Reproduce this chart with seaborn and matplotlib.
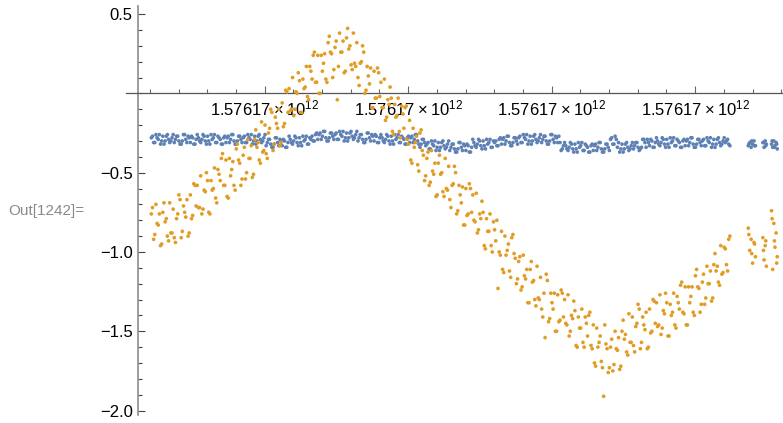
import numpy as np
import pandas as pd
import matplotlib
matplotlib.use("Agg")
import matplotlib.pyplot as plt
import matplotlib.ticker as mticker
import seaborn as sns

# sample times (axis units, one minor tick per unit), first batch of readings
t_a = [
    1.05, 1.13, 1.21, 1.29, 1.37, 1.45, 1.53, 1.61, 1.69, 1.77,
    1.85, 1.93, 2.01, 2.09, 2.17, 2.25, 2.33, 2.41, 2.49, 2.57,
    2.65, 2.73, 2.81, 2.89, 2.97, 3.05, 3.13, 3.21, 3.29, 3.37,
    3.45, 3.53, 3.61, 3.69, 3.77, 3.85, 3.93, 4.01, 4.09, 4.17,
    4.25, 4.33, 4.41, 4.49, 4.57, 4.65, 4.73, 4.81, 4.89, 4.97,
    5.05, 5.13, 5.21, 5.29, 5.37, 5.45, 5.53, 5.61, 5.69, 5.77,
    5.85, 5.93, 6.01, 6.09, 6.17, 6.25, 6.33, 6.41, 6.49, 6.57,
    6.65, 6.73, 6.81, 6.89, 6.97, 7.05, 7.13, 7.21, 7.29, 7.37,
    7.45, 7.53, 7.61, 7.69, 7.77, 7.85, 7.93, 8.01, 8.09, 8.17,
    8.25, 8.33, 8.41, 8.49, 8.57, 8.65, 8.73, 8.81, 8.89, 8.97,
    9.05, 9.13, 9.21, 9.29, 9.37, 9.45, 9.53, 9.61, 9.69, 9.77,
    9.85, 9.93, 10.01, 10.09, 10.17, 10.25, 10.33, 10.41, 10.49, 10.57,
    10.65, 10.73, 10.81, 10.89, 10.97, 11.05, 11.13, 11.21, 11.29, 11.37,
    11.45, 11.53, 11.61, 11.69, 11.77, 11.85, 11.93, 12.01, 12.09, 12.17,
    12.25, 12.33, 12.41, 12.49, 12.57, 12.65, 12.73, 12.81, 12.89, 12.97,
    13.05, 13.13, 13.21, 13.29, 13.37, 13.45, 13.53, 13.61, 13.69, 13.77,
    13.85, 13.93, 14.01, 14.09, 14.17, 14.25, 14.33, 14.41, 14.49, 14.57,
    14.65, 14.73, 14.81, 14.89, 14.97, 15.05, 15.13, 15.21, 15.29, 15.37,
    15.45, 15.53, 15.61, 15.69, 15.77, 15.85, 15.93, 16.01, 16.09, 16.17,
    16.25, 16.33, 16.41, 16.49, 16.57, 16.65, 16.73, 16.81, 16.89, 16.97,
    17.05, 17.13, 17.21, 17.29, 17.37, 17.45, 17.53, 17.61, 17.69, 17.77,
    17.85, 17.93, 18.01, 18.09, 18.17, 18.25, 18.33, 18.41, 18.49, 18.57,
    18.65, 18.73, 18.81, 18.89, 18.97, 19.05, 19.13, 19.21, 19.29, 19.37,
    19.45, 19.53, 19.61, 19.69, 19.77, 19.85, 19.93, 20.01, 20.09, 20.17,
    20.25, 20.33, 20.41, 20.49, 20.57, 20.65, 20.73, 20.81, 20.89, 20.97,
    21.05, 21.13, 21.21,
    21.85, 21.90, 21.95, 22.00, 22.05, 22.10,
    22.36, 22.40, 22.44, 22.48,
    22.66, 22.70, 22.74, 22.78, 22.82, 22.86,
]

orange_a = [
    -0.76, -0.92, -0.70, -0.83, -0.96, -0.75, -0.81, -0.90, -0.69, -0.88,
    -0.91, -0.79, -0.64, -0.91, -0.71, -0.78, -0.90, -0.64, -0.77, -0.58,
    -0.58, -0.72, -0.76, -0.61, -0.50, -0.75, -0.55, -0.60, -0.66, -0.48,
    -0.55, -0.38, -0.58, -0.65, -0.41, -0.48, -0.58, -0.35, -0.42, -0.58,
    -0.39, -0.54, -0.29, -0.41, -0.53, -0.29, -0.34, -0.42, -0.18, -0.36,
    -0.38, -0.25, -0.10, -0.36, -0.15, -0.22, -0.33, -0.06, -0.19, 0.01,
    0.03, -0.10, -0.14, 0.01, 0.13, -0.12, 0.09, 0.04, -0.02, 0.17,
    0.09, 0.26, 0.07, 0.00, 0.24, 0.19, 0.09, 0.32, 0.26, 0.10,
    0.29, -0.04, 0.38, 0.26, 0.13, 0.35, 0.28, 0.18, 0.38, 0.17,
    0.10, 0.19, 0.30, 0.00, 0.17, 0.06, -0.09, 0.14, -0.03, 0.13,
    0.07, -0.09, -0.17, -0.04, 0.04, -0.24, -0.07, -0.14, -0.24, -0.08,
    -0.22, -0.08, -0.32, -0.42, -0.22, -0.31, -0.45, -0.25, -0.36, -0.55,
    -0.41, -0.58, -0.36, -0.51, -0.65, -0.44, -0.51, -0.62, -0.41, -0.61,
    -0.67, -0.58, -0.46, -0.76, -0.58, -0.69, -0.83, -0.60, -0.76, -0.60,
    -0.64, -0.81, -0.88, -0.76, -0.68, -0.96, -0.79, -0.87, -0.96, -0.81,
    -0.93, -1.23, -1.02, -1.11, -0.90, -0.99, -1.12, -0.91, -1.01, -1.20,
    -1.06, -1.24, -1.02, -1.17, -1.32, -1.11, -1.19, -1.30, -1.09, -1.30,
    -1.36, -1.26, -1.14, -1.44, -1.26, -1.36, -1.50, -1.27, -1.43, -1.26,
    -1.30, -1.46, -1.53, -1.40, -1.31, -1.59, -1.41, -1.48, -1.57, -1.41,
    -1.53, -1.38, -1.61, -1.70, -1.48, -1.57, -1.69, -1.91, -1.58, -1.76,
    -1.60, -1.75, -1.50, -1.62, -1.74, -1.50, -1.55, -1.63, -1.39, -1.57,
    -1.59, -1.47, -1.33, -1.61, -1.41, -1.49, -1.61, -1.36, -1.50, -1.31,
    -1.32, -1.46, -1.52, -1.37, -1.26, -1.53, -1.33, -1.38, -1.46, -1.28,
    -1.36, -1.19, -1.39, -1.46, -1.22, -1.28, -1.38, -1.15, -1.22, -1.38,
    -1.19, -1.33, -1.09, -1.20, -1.31, -1.08, -1.12, -1.19, -0.96, -1.13,
    -0.98, -1.12, -0.90,
    -0.85, -0.99, -0.92, -1.07, -0.94, -1.03,
    -0.91, -1.05, -0.96, -1.09,
    -0.74, -1.11, -0.82, -0.97, -0.88, -1.03,
]

blue_a = [
    -0.28, -0.31, -0.26, -0.29, -0.32, -0.27, -0.30, -0.26, -0.31, -0.28,
    -0.31, -0.27, -0.30, -0.32, -0.26, -0.29, -0.27, -0.31, -0.28, -0.32,
    -0.26, -0.30, -0.29, -0.27, -0.32, -0.30, -0.26, -0.28, -0.31, -0.27,
    -0.29, -0.32, -0.27, -0.28, -0.31, -0.26, -0.30, -0.32, -0.27, -0.29,
    -0.28, -0.31, -0.26, -0.29, -0.32, -0.27, -0.30, -0.26, -0.31, -0.28,
    -0.33, -0.29, -0.32, -0.34, -0.28, -0.31, -0.29, -0.33, -0.30, -0.34,
    -0.27, -0.31, -0.30, -0.28, -0.33, -0.31, -0.27, -0.29, -0.32, -0.28,
    -0.27, -0.30, -0.25, -0.26, -0.29, -0.24, -0.28, -0.30, -0.25, -0.27,
    -0.26, -0.29, -0.24, -0.27, -0.30, -0.25, -0.28, -0.24, -0.29, -0.26,
    -0.30, -0.26, -0.29, -0.31, -0.25, -0.28, -0.26, -0.30, -0.27, -0.31,
    -0.26, -0.30, -0.29, -0.27, -0.32, -0.30, -0.26, -0.28, -0.31, -0.27,
    -0.29, -0.32, -0.27, -0.28, -0.31, -0.26, -0.30, -0.34, -0.29, -0.31,
    -0.32, -0.35, -0.30, -0.33, -0.36, -0.31, -0.34, -0.30, -0.35, -0.32,
    -0.36, -0.32, -0.35, -0.37, -0.31, -0.34, -0.32, -0.36, -0.33, -0.37,
    -0.29, -0.33, -0.32, -0.30, -0.35, -0.33, -0.29, -0.31, -0.34, -0.30,
    -0.30, -0.33, -0.28, -0.29, -0.32, -0.27, -0.31, -0.33, -0.28, -0.30,
    -0.28, -0.31, -0.26, -0.29, -0.32, -0.27, -0.30, -0.26, -0.31, -0.28,
    -0.31, -0.27, -0.30, -0.32, -0.26, -0.29, -0.27, -0.31, -0.31, -0.35,
    -0.31, -0.35, -0.34, -0.32, -0.37, -0.35, -0.31, -0.33, -0.36, -0.32,
    -0.34, -0.37, -0.32, -0.33, -0.36, -0.31, -0.35, -0.37, -0.32, -0.34,
    -0.29, -0.32, -0.27, -0.34, -0.37, -0.32, -0.35, -0.31, -0.36, -0.33,
    -0.35, -0.31, -0.34, -0.35, -0.29, -0.31, -0.29, -0.33, -0.30, -0.34,
    -0.28, -0.32, -0.31, -0.29, -0.34, -0.32, -0.28, -0.30, -0.33, -0.29,
    -0.31, -0.34, -0.29, -0.30, -0.33, -0.28, -0.32, -0.34, -0.29, -0.31,
    -0.30, -0.33, -0.28, -0.31, -0.34, -0.29, -0.32, -0.28, -0.33, -0.30,
    -0.31, -0.29, -0.33,
    -0.33, -0.31, -0.34, -0.32, -0.30, -0.33,
    -0.31, -0.34, -0.30, -0.32,
    -0.32, -0.34, -0.30, -0.33, -0.31, -0.35,
]

# second batch of readings, taken between the first ones
t_b = [
    1.09, 1.17, 1.25, 1.33, 1.41, 1.49, 1.57, 1.65, 1.73, 1.81,
    1.89, 1.97, 2.05, 2.13, 2.21, 2.29, 2.37, 2.45, 2.53, 2.61,
    2.69, 2.77, 2.85, 2.93, 3.01, 3.09, 3.17, 3.25, 3.33, 3.41,
    3.49, 3.57, 3.65, 3.73, 3.81, 3.89, 3.97, 4.05, 4.13, 4.21,
    4.29, 4.37, 4.45, 4.53, 4.61, 4.69, 4.77, 4.85, 4.93, 5.01,
    5.09, 5.17, 5.25, 5.33, 5.41, 5.49, 5.57, 5.65, 5.73, 5.81,
    5.89, 5.97, 6.05, 6.13, 6.21, 6.29, 6.37, 6.45, 6.53, 6.61,
    6.69, 6.77, 6.85, 6.93, 7.01, 7.09, 7.17, 7.25, 7.33, 7.41,
    7.49, 7.57, 7.65, 7.73, 7.81, 7.89, 7.97, 8.05, 8.13, 8.21,
    8.29, 8.37, 8.45, 8.53, 8.61, 8.69, 8.77, 8.85, 8.93, 9.01,
    9.09, 9.17, 9.25, 9.33, 9.41, 9.49, 9.57, 9.65, 9.73, 9.81,
    9.89, 9.97, 10.05, 10.13, 10.21, 10.29, 10.37, 10.45, 10.53, 10.61,
    10.69, 10.77, 10.85, 10.93, 11.01, 11.09, 11.17, 11.25, 11.33, 11.41,
    11.49, 11.57, 11.65, 11.73, 11.81, 11.89, 11.97, 12.05, 12.13, 12.21,
    12.29, 12.37, 12.45, 12.53, 12.61, 12.69, 12.77, 12.85, 12.93, 13.01,
    13.09, 13.17, 13.25, 13.33, 13.41, 13.49, 13.57, 13.65, 13.73, 13.81,
    13.89, 13.97, 14.05, 14.13, 14.21, 14.29, 14.37, 14.45, 14.53, 14.61,
    14.69, 14.77, 14.85, 14.93, 15.01, 15.09, 15.17, 15.25, 15.33, 15.41,
    15.49, 15.57, 15.65, 15.73, 15.81, 15.89, 15.97, 16.05, 16.13, 16.21,
    16.29, 16.37, 16.45, 16.53, 16.61, 16.69, 16.77, 16.85, 16.93, 17.01,
    17.09, 17.17, 17.25, 17.33, 17.41, 17.49, 17.57, 17.65, 17.73, 17.81,
    17.89, 17.97, 18.05, 18.13, 18.21, 18.29, 18.37, 18.45, 18.53, 18.61,
    18.69, 18.77, 18.85, 18.93, 19.01, 19.09, 19.17, 19.25, 19.33, 19.41,
    19.49, 19.57, 19.65, 19.73, 19.81, 19.89, 19.97, 20.05, 20.13, 20.21,
    20.29, 20.37, 20.45, 20.53, 20.61, 20.69, 20.77, 20.85, 20.93, 21.01,
    21.09, 21.17,
    21.87, 21.97, 22.07, 22.38, 22.46, 22.68, 22.76, 22.84,
]

orange_b = [
    -0.72, -0.89, -0.82, -0.76, -0.95, -0.69, -0.79, -0.93, -0.88, -0.73,
    -0.94, -0.76, -0.67, -0.87, -0.75, -0.67, -0.88, -0.79, -0.57, -0.71,
    -0.72, -0.52, -0.73, -0.62, -0.55, -0.76, -0.61, -0.47, -0.69, -0.51,
    -0.41, -0.58, -0.42, -0.66, -0.52, -0.43, -0.61, -0.32, -0.44, -0.54,
    -0.34, -0.50, -0.41, -0.33, -0.51, -0.23, -0.31, -0.44, -0.37, -0.20,
    -0.41, -0.22, -0.12, -0.32, -0.19, -0.10, -0.31, -0.21, 0.02, -0.12,
    -0.11, 0.10, -0.10, 0.00, 0.08, -0.12, 0.03, 0.17, -0.04, 0.14,
    0.24, 0.07, 0.24, 0.00, 0.14, 0.25, 0.07, 0.36, 0.25, 0.15,
    0.33, 0.17, 0.26, 0.33, 0.14, 0.41, 0.30, 0.15, 0.19, 0.32,
    0.05, 0.20, 0.26, 0.02, 0.11, 0.16, -0.09, -0.03, 0.16, -0.02,
    -0.09, 0.09, -0.15, -0.07, -0.03, -0.26, -0.15, -0.03, -0.28, -0.13,
    -0.09, -0.29, -0.17, -0.44, -0.34, -0.27, -0.49, -0.23, -0.39, -0.52,
    -0.37, -0.56, -0.49, -0.44, -0.64, -0.39, -0.50, -0.65, -0.60, -0.46,
    -0.72, -0.57, -0.50, -0.74, -0.64, -0.59, -0.83, -0.77, -0.57, -0.75,
    -0.80, -0.63, -0.86, -0.79, -0.75, -0.98, -0.87, -0.76, -1.00, -0.86,
    -0.80, -1.00, -0.87, -1.13, -1.02, -0.95, -1.16, -0.89, -1.04, -1.17,
    -1.03, -1.22, -1.15, -1.11, -1.32, -1.06, -1.18, -1.34, -1.29, -1.16,
    -1.41, -1.54, -1.18, -1.42, -1.32, -1.26, -1.50, -1.44, -1.24, -1.41,
    -1.45, -1.27, -1.50, -1.42, -1.37, -1.60, -1.48, -1.36, -1.60, -1.45,
    -1.40, -1.59, -1.46, -1.72, -1.60, -1.53, -1.73, -1.46, -1.61, -1.73,
    -1.55, -1.71, -1.61, -1.54, -1.72, -1.43, -1.52, -1.65, -1.57, -1.41,
    -1.63, -1.45, -1.36, -1.57, -1.46, -1.38, -1.60, -1.51, -1.30, -1.45,
    -1.47, -1.27, -1.48, -1.39, -1.32, -1.53, -1.40, -1.26, -1.48, -1.32,
    -1.21, -1.38, -1.22, -1.46, -1.32, -1.22, -1.40, -1.11, -1.23, -1.33,
    -1.14, -1.29, -1.20, -1.12, -1.29, -1.01, -1.09, -1.21, -1.14, -0.97,
    -1.08, -0.92,
    -0.89, -1.01, -0.95, -0.99, -0.93, -0.79, -0.93, -1.07,
]

blue_b = [
    -0.27, -0.31, -0.28, -0.26, -0.30, -0.32, -0.27, -0.29, -0.30, -0.26,
    -0.29, -0.27, -0.32, -0.30, -0.26, -0.31, -0.28, -0.27, -0.32, -0.29,
    -0.28, -0.31, -0.26, -0.30, -0.27, -0.32, -0.29, -0.26, -0.31, -0.28,
    -0.32, -0.28, -0.31, -0.27, -0.29, -0.26, -0.32, -0.30, -0.27, -0.31,
    -0.27, -0.31, -0.28, -0.26, -0.30, -0.32, -0.27, -0.29, -0.30, -0.26,
    -0.31, -0.29, -0.34, -0.32, -0.28, -0.33, -0.30, -0.29, -0.34, -0.31,
    -0.29, -0.32, -0.27, -0.31, -0.28, -0.33, -0.30, -0.27, -0.32, -0.29,
    -0.30, -0.26, -0.29, -0.25, -0.27, -0.24, -0.30, -0.28, -0.25, -0.29,
    -0.25, -0.29, -0.26, -0.24, -0.28, -0.30, -0.25, -0.27, -0.28, -0.24,
    -0.28, -0.26, -0.31, -0.29, -0.25, -0.30, -0.27, -0.26, -0.31, -0.28,
    -0.28, -0.31, -0.26, -0.30, -0.27, -0.32, -0.29, -0.26, -0.31, -0.28,
    -0.32, -0.28, -0.31, -0.27, -0.29, -0.26, -0.32, -0.32, -0.29, -0.33,
    -0.31, -0.35, -0.32, -0.30, -0.34, -0.36, -0.31, -0.33, -0.34, -0.30,
    -0.34, -0.32, -0.37, -0.35, -0.31, -0.36, -0.33, -0.32, -0.37, -0.34,
    -0.31, -0.34, -0.29, -0.33, -0.30, -0.35, -0.32, -0.29, -0.34, -0.31,
    -0.33, -0.29, -0.32, -0.28, -0.30, -0.27, -0.33, -0.31, -0.28, -0.32,
    -0.27, -0.31, -0.28, -0.26, -0.30, -0.32, -0.27, -0.29, -0.30, -0.26,
    -0.29, -0.27, -0.32, -0.30, -0.26, -0.31, -0.28, -0.27, -0.36, -0.33,
    -0.33, -0.36, -0.31, -0.35, -0.32, -0.37, -0.34, -0.31, -0.36, -0.33,
    -0.37, -0.33, -0.36, -0.32, -0.34, -0.31, -0.37, -0.35, -0.32, -0.36,
    -0.28, -0.32, -0.29, -0.31, -0.35, -0.37, -0.32, -0.34, -0.35, -0.31,
    -0.33, -0.31, -0.36, -0.34, -0.29, -0.34, -0.31, -0.29, -0.34, -0.31,
    -0.30, -0.33, -0.28, -0.32, -0.29, -0.34, -0.31, -0.28, -0.33, -0.30,
    -0.34, -0.30, -0.33, -0.29, -0.31, -0.28, -0.34, -0.32, -0.29, -0.33,
    -0.29, -0.33, -0.30, -0.28, -0.32, -0.34, -0.29, -0.31, -0.32, -0.28,
    -0.30, -0.32,
    -0.32, -0.30, -0.33, -0.31, -0.33, -0.30, -0.34, -0.32,
]

x_major = [5, 10, 15, 20]
x_tick_labels = [r"$1.57617\times10^{12}$"] * 4
y_major = [-2.0, -1.5, -1.0, -0.5, 0.5]

blue_color = "#5E81B5"
orange_color = "#E19C24"

sns.set_style("white")
plt.rcParams["font.family"] = ["Liberation Sans", "DejaVu Sans"]
plt.rcParams["mathtext.fontset"] = "custom"
plt.rcParams["mathtext.rm"] = "Liberation Sans"
plt.rcParams["mathtext.default"] = "regular"

assert len(t_a) == len(orange_a) == len(blue_a)
assert len(t_b) == len(orange_b) == len(blue_b)

# blue first so the orange points sit on top
df = pd.concat([
    pd.DataFrame({"t": t_a, "v": blue_a, "series": "blue"}),
    pd.DataFrame({"t": t_b, "v": blue_b, "series": "blue"}),
    pd.DataFrame({"t": t_a, "v": orange_a, "series": "orange"}),
    pd.DataFrame({"t": t_b, "v": orange_b, "series": "orange"}),
], ignore_index=True)

fig = plt.figure(figsize=(7.83, 4.23), dpi=100)
ax = fig.add_axes([126 / 783, 1 - 415 / 423, 1 - 126 / 783, 409 / 423])

sns.scatterplot(data=df, x="t", y="v", hue="series",
                palette={"blue": blue_color, "orange": orange_color},
                s=7, linewidth=0, legend=False, ax=ax, zorder=3)

ax.set_xlim(0.167, 23.06)
ax.set_ylim(-2.028, 0.551)
ax.set_xlabel("")
ax.set_ylabel("")

for side in ["top", "right"]:
    ax.spines[side].set_visible(False)
ax.spines["bottom"].set_position(("data", 0))
ax.spines["left"].set_position(("data", 0.60))
ax.spines["bottom"].set_color("#555555")
ax.spines["left"].set_color("#8c8c8c")
ax.spines["bottom"].set_linewidth(0.9)
ax.spines["left"].set_linewidth(1.2)

ax.xaxis.set_major_locator(mticker.FixedLocator(x_major))
ax.xaxis.set_major_formatter(mticker.FixedFormatter(x_tick_labels))
ax.xaxis.set_minor_locator(mticker.MultipleLocator(1))
ax.yaxis.set_major_locator(mticker.FixedLocator(y_major))
ax.yaxis.set_major_formatter(mticker.FuncFormatter(lambda v, p: f"{v:.1f}".replace("-", "\u2212")))
ax.yaxis.set_minor_locator(mticker.MultipleLocator(0.1))

ax.tick_params(which="both", bottom=True, left=True, top=False, right=False)
ax.tick_params(axis="x", which="major", direction="in", length=5, width=0.8,
               color="#666666", labelsize=12, pad=4, labelcolor="black")
ax.tick_params(axis="x", which="minor", direction="in", length=3, width=0.8, color="#666666")
ax.tick_params(axis="y", which="major", direction="in", length=5, width=0.8,
               color="#444444", labelsize=12, pad=4, labelcolor="black")
ax.tick_params(axis="y", which="minor", direction="in", length=3, width=0.8, color="#444444")

fig.text(8 / 783, 1 - 211 / 423, "Out[1242]=", color="#8a8a8a", fontsize=11,
         ha="left", va="center")

fig.savefig("out.png", dpi=100)
